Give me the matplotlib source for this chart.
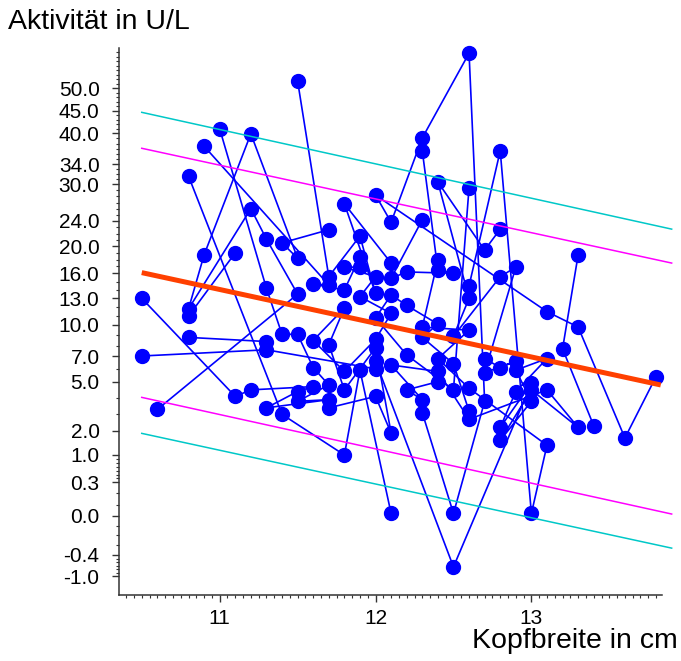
import numpy as np
import matplotlib.pyplot as plt
from matplotlib.ticker import FixedLocator, FixedFormatter

plt.rcParams['font.family'] = ['Liberation Sans', 'DejaVu Sans']

# Messwerte je Tier: Kopfbreite (cm) und Aktivitaet (U/L)
kopf = [
    13.8, 13.6, 13.3, 13.1, 12.0, 12.1, 12.3, 12.6, 12.7, 12.5, 12.3,
    13.3, 13.2, 13.4,
    11.5, 11.7, 11.9, 12.0, 11.8, 12.1,
    12.6, 12.8, 13.0, 13.1, 12.6, 12.4, 12.6, 12.3, 12.4,
    12.3, 12.4, 12.5, 12.2, 12.1, 12.3,
    12.6, 12.5, 12.2, 12.0, 12.1, 12.2, 12.4, 12.3, 12.5, 12.6,
    12.8, 12.7, 12.4, 12.6, 12.5, 12.8, 12.9, 12.7, 12.9, 12.8, 12.7,
    12.0, 12.5, 13.0, 12.8, 12.9, 13.1, 12.9, 13.0, 12.8, 13.0, 13.3, 13.1, 12.6, 12.4, 12.1, 12.3, 12.2, 12.4,
    10.8, 11.4, 11.8, 11.9, 12.1,
    11.7, 12.0, 12.1, 12.0, 11.8, 11.7, 11.8, 11.6, 11.8, 12.0, 12.1, 11.9, 12.0, 11.8, 11.9, 11.9, 11.8, 11.6, 11.7, 10.9,
    10.6, 11.5, 11.3, 11.2, 10.8, 10.9, 11.2, 11.5, 11.4, 11.7,
    10.5, 11.1, 11.2, 11.6, 11.5, 11.3, 11.7, 11.5, 11.7, 11.6, 11.5, 11.4, 11.3, 11.0,
    10.5, 11.3, 12.0,
    10.8, 11.3,
    10.8, 11.1,
]
akt = [
    5.4, 1.7, 9.8, 11.5, 28.2, 23.8, 39.1, 57.8, 3.8, 0.02, 3.1,
    18.7, 7.7, 2.3,
    51.6, 15.6, 21.6, 13.6, 26.8, 17.5,
    14.5, 36.6, 0.02, 1.4, 4.6, 6.8, 9.5, 9.8, 17.9,
    36.6, 16.5, 16.0, 16.2, 15.4, 24.2,
    29.4, 4.5, 7.1, 10.8, 13.4, 12.2, 10.1, 8.8, 6.4, 3.2,
    22.7, 19.4, 30.4, 13.0, 8.9, 15.6, 16.9, 5.7, 6.6, 6.1, 6.8,
    6.6, -0.74, 4.9, 2.2, 4.4, 6.8, 5.9, 3.8, 1.6, 4.5, 2.2, 4.5, 2.7, 5.8, 6.3, 3.9, 4.5, 5.0,
    31.6, 3.0, 1.0, 5.9, 0.02,
    3.4, 4.1, 1.9, 7.8, 4.5, 8.1, 11.9, 8.5, 5.8, 8.6, 11.3, 13.2, 15.6, 16.9, 16.9, 18.4, 14.0, 14.7, 14.6, 37.5,
    3.3, 13.5, 21.1, 26.0, 11.8, 18.7, 39.9, 18.2, 20.5, 22.6,
    13.0, 4.1, 4.5, 4.7, 4.4, 3.4, 3.9, 3.8, 4.8, 6.1, 9.1, 9.1, 14.2, 41.0,
    7.0, 7.6, 6.0,
    8.8, 8.4,
    11.0, 19.0,
]
n_pro_tier = [11, 3, 6, 9, 6, 10, 11, 18, 5, 20, 10, 14, 3, 2, 2]

# Regressionsgerade mit inneren und aeusseren Grenzen
fit_x = [10.5, 13.83]
fit_y = [16.1, 4.8]
band_x = [10.5, 13.9]
innen_oben = [37.1, 17.5]
innen_unten = [4.04, 0.015]
aussen_oben = [44.7, 22.7]
aussen_unten = [1.89, -0.33]

# beschriftete Werte der y-Achse und ihre Lage (px ab Achsenursprung)
y_ticks = [-1.0, -0.4, 0.0, 0.3, 1.0, 2.0, 5.0, 7.0, 10.0, 13.0, 16.0,
           20.0, 24.0, 30.0, 34.0, 40.0, 45.0, 50.0]
y_lage = [19, 40, 79.3, 112.7, 140, 164.3, 213.3, 239, 270, 296.7, 321.7,
          349, 374, 411, 430.7, 461.7, 484, 506.7]

sv = np.array([-1.6] + y_ticks + [60.0])
sp = np.array([-2.0] + y_lage + [551.7])


def vor(v):
    return np.interp(v, sv, sp)


def rueck(p):
    return np.interp(p, sp, sv)


fig = plt.figure(figsize=(6.81, 6.61), dpi=100)
ax = fig.add_axes([119 / 681, 66 / 661, 543 / 681, 547 / 661])
ax.set_yscale('function', functions=(vor, rueck))

x = np.array(kopf)
y = np.array(akt)
grenzen = np.cumsum(n_pro_tier)[:-1]
for xs, ys in zip(np.split(x, grenzen), np.split(y, grenzen)):
    ax.plot(xs, ys, '-', color='#0000ff', lw=1.2, marker='o', ms=10,
            mec='#0000ff', mfc='#0000ff', zorder=2, clip_on=False)

ax.plot(band_x, aussen_oben, color='#00c8c8', lw=1.1, zorder=3, clip_on=False)
ax.plot(band_x, aussen_unten, color='#00c8c8', lw=1.1, zorder=3, clip_on=False)
ax.plot(band_x, innen_oben, color='#ff00ff', lw=1.1, zorder=3, clip_on=False)
ax.plot(band_x, innen_unten, color='#ff00ff', lw=1.1, zorder=3, clip_on=False)
ax.plot(fit_x, fit_y, color='#ff4000', lw=3.6, zorder=4, solid_capstyle='butt')

ax.set_xlim(10.354, 13.838)
ax.set_ylim(rueck(0), rueck(547))

ax.xaxis.set_major_locator(FixedLocator([11, 12, 13]))
ax.xaxis.set_minor_locator(FixedLocator(np.arange(10.35, 13.84, 0.05)))
ax.set_xticklabels(['11', '12', '13'])

minor_y = [v for v in list(np.round(np.arange(-1.0, 1.0, 0.1), 1)) + list(range(2, 59))
           if v not in y_ticks]
ax.yaxis.set_major_locator(FixedLocator(y_ticks))
ax.yaxis.set_major_formatter(FixedFormatter(['%.1f' % v for v in y_ticks]))
ax.yaxis.set_minor_locator(FixedLocator(minor_y))

for s in ['top', 'right']:
    ax.spines[s].set_visible(False)
for s in ['left', 'bottom']:
    ax.spines[s].set_color('#333333')
    ax.spines[s].set_linewidth(1.1)

ax.tick_params(which='major', direction='out', length=5, width=1, color='#333333',
               labelsize=15, labelcolor='black')
ax.tick_params(which='minor', direction='out', length=2.5, width=0.8, color='#333333')
ax.tick_params(axis='y', which='major', pad=9)
ax.tick_params(axis='x', which='major', pad=5)

fig.text(8 / 681, 1 - 22 / 661, 'Aktivität in U/L', fontsize=20.5, ha='left', va='center')
fig.text(678 / 681, 1 - 641 / 661, 'Kopfbreite in cm', fontsize=20.5, ha='right', va='center')

fig.savefig('out.png', dpi=100)
